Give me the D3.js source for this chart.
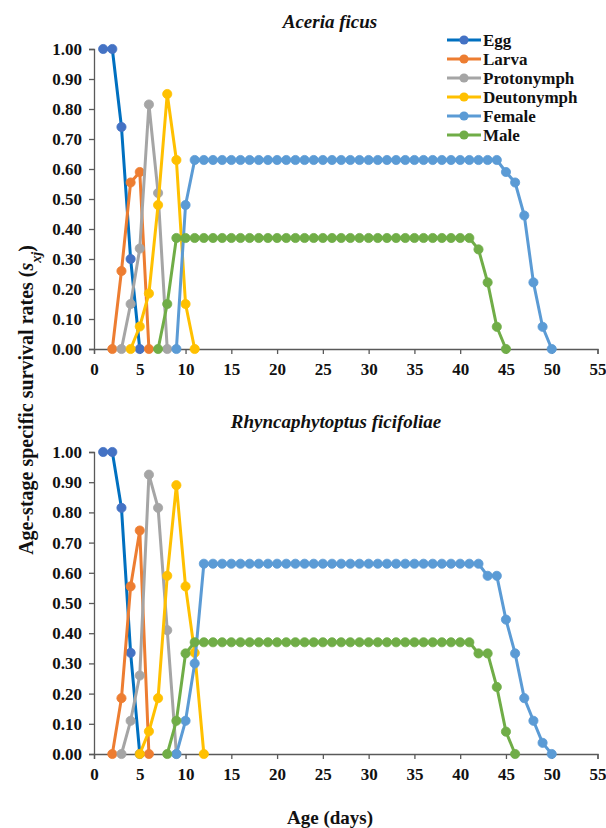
<!DOCTYPE html>
<html><head><meta charset="utf-8">
<script src="https://cdn.jsdelivr.net/npm/d3@7"></script>
<style>body{margin:0;background:#fff}svg{display:block}</style>
</head><body>
<script>
// ---------- DATA ----------
const seriesNames = ["Egg","Larva","Protonymph","Deutonymph","Female","Male"];
const xTicks = [0,5,10,15,20,25,30,35,40,45,50,55];
const yTicks = [0,0.1,0.2,0.3,0.4,0.5,0.6,0.7,0.8,0.9,1.0];

// Aceria ficus
const afEggDays = [1,2,3,4,5];
const afEggVals = [1.00,1.00,0.74,0.30,0.00];
const afLarvaDays = [2,3,4,5,6];
const afLarvaVals = [0.00,0.26,0.555,0.59,0.00];
const afProtoDays = [3,4,5,6,7,8];
const afProtoVals = [0.00,0.15,0.335,0.815,0.52,0.00];
const afDeutoDays = [4,5,6,7,8,9,10,11];
const afDeutoVals = [0.00,0.075,0.185,0.48,0.85,0.63,0.15,0.00];
const afFemaleStart = 9;
const afFemaleVals = [0.00,0.48,
  0.63,0.63,0.63,0.63,0.63,0.63,0.63,0.63,0.63,0.63,
  0.63,0.63,0.63,0.63,0.63,0.63,0.63,0.63,0.63,0.63,
  0.63,0.63,0.63,0.63,0.63,0.63,0.63,0.63,0.63,0.63,
  0.63,0.63,0.63,0.63,
  0.59,0.555,0.445,0.222,0.074,0.00];
const afMaleStart = 7;
const afMaleVals = [0.00,0.15,
  0.37,0.37,0.37,0.37,0.37,0.37,0.37,0.37,0.37,0.37,
  0.37,0.37,0.37,0.37,0.37,0.37,0.37,0.37,0.37,0.37,
  0.37,0.37,0.37,0.37,0.37,0.37,0.37,0.37,0.37,0.37,
  0.37,0.37,0.37,
  0.332,0.222,0.074,0.00];

// Rhyncaphytoptus ficifoliae
const rfEggDays = [1,2,3,4,5];
const rfEggVals = [1.00,1.00,0.815,0.335,0.00];
const rfLarvaDays = [2,3,4,5,6];
const rfLarvaVals = [0.00,0.185,0.555,0.74,0.00];
const rfProtoDays = [3,4,5,6,7,8,9];
const rfProtoVals = [0.00,0.11,0.26,0.925,0.815,0.41,0.00];
const rfDeutoDays = [5,6,7,8,9,10,11,12];
const rfDeutoVals = [0.00,0.075,0.185,0.59,0.89,0.555,0.335,0.00];
const rfFemaleStart = 9;
const rfFemaleVals = [0.00,0.11,0.30,
  0.63,0.63,0.63,0.63,0.63,0.63,0.63,0.63,0.63,0.63,
  0.63,0.63,0.63,0.63,0.63,0.63,0.63,0.63,0.63,0.63,
  0.63,0.63,0.63,0.63,0.63,0.63,0.63,0.63,0.63,0.63,
  0.63,
  0.59,0.59,0.445,0.333,0.185,0.11,0.037,0.00];
const rfMaleStart = 8;
const rfMaleVals = [0.00,0.11,0.333,
  0.37,0.37,0.37,0.37,0.37,0.37,0.37,0.37,0.37,0.37,
  0.37,0.37,0.37,0.37,0.37,0.37,0.37,0.37,0.37,0.37,
  0.37,0.37,0.37,0.37,0.37,0.37,0.37,0.37,0.37,0.37,
  0.37,
  0.333,0.333,0.222,0.074,0.00];

// ---------- STYLE ----------
const lineColors = ["#0070C0","#ED7D31","#A5A5A5","#FFC000","#5B9BD5","#70AD47"];
const markColors = ["#4472C4","#ED7D31","#A5A5A5","#FFC000","#5B9BD5","#70AD47"];
const FONT = "Liberation Serif";

const W = 606, H = 828;
const svg = d3.select("body").append("svg").attr("width",W).attr("height",H)
  .attr("font-family",FONT).attr("font-weight","bold");

function pairs(days, vals){ return days.map((d,i)=>[d, vals[i]]); }
function seq(start, vals){ return vals.map((v,i)=>[start+i, v]); }

const charts = [
  { title:"Aceria ficus", top:49, bottom:349, titleX:330, titleY:28,
    series:[pairs(afEggDays,afEggVals), pairs(afLarvaDays,afLarvaVals), pairs(afProtoDays,afProtoVals),
            pairs(afDeutoDays,afDeutoVals), seq(afFemaleStart,afFemaleVals), seq(afMaleStart,afMaleVals)] },
  { title:"Rhyncaphytoptus ficifoliae", top:452, bottom:754, titleX:336, titleY:428,
    series:[pairs(rfEggDays,rfEggVals), pairs(rfLarvaDays,rfLarvaVals), pairs(rfProtoDays,rfProtoVals),
            pairs(rfDeutoDays,rfDeutoVals), seq(rfFemaleStart,rfFemaleVals), seq(rfMaleStart,rfMaleVals)] }
];

const x = d3.scaleLinear().domain([0,55]).range([94,597.5]);

charts.forEach(ch => {
  const y = d3.scaleLinear().domain([0,1]).range([ch.bottom, ch.top]);
  const g = svg.append("g");

  const yAxis = d3.axisLeft(y).tickValues(yTicks).tickFormat(d3.format(".2f")).tickSize(5).tickPadding(7);
  const gy = g.append("g").attr("transform",`translate(${x(0)},0)`).call(yAxis);
  const xAxis = d3.axisBottom(x).tickValues(xTicks).tickFormat(d3.format("d")).tickSize(5).tickPadding(9);
  const gx = g.append("g").attr("transform",`translate(0,${ch.bottom})`).call(xAxis);
  [gx,gy].forEach(a=>{
    a.attr("font-family",FONT).attr("font-size",17).attr("font-weight","bold");
    a.select(".domain").attr("stroke","#595959").attr("stroke-width",1.3);
    a.selectAll(".tick line").attr("stroke","#595959").attr("stroke-width",1.3);
    a.selectAll(".tick text").attr("fill","#111");
  });

  g.append("text").attr("x",ch.titleX).attr("y",ch.titleY).attr("text-anchor","middle")
    .attr("font-style","italic").attr("font-size",19).attr("fill","#111").text(ch.title);

  const line = d3.line().x(d=>x(d[0])).y(d=>y(d[1]));
  ch.series.forEach((s,i)=>{
    const sg = g.append("g");
    sg.append("path").datum(s).attr("d",line).attr("fill","none")
      .attr("stroke",lineColors[i]).attr("stroke-width",3).attr("stroke-linejoin","round");
    sg.selectAll("circle").data(s).join("circle")
      .attr("cx",d=>x(d[0])).attr("cy",d=>y(d[1])).attr("r",4.6)
      .attr("fill",markColors[i]).attr("stroke",markColors[i]).attr("stroke-width",0.8);
  });
});

// legend
const leg = svg.append("g");
seriesNames.forEach((n,i)=>{
  const yy = 40 + i*19;
  leg.append("line").attr("x1",447).attr("x2",481).attr("y1",yy).attr("y2",yy)
    .attr("stroke",lineColors[i]).attr("stroke-width",3);
  leg.append("circle").attr("cx",464).attr("cy",yy).attr("r",4.6).attr("fill",markColors[i]);
  leg.append("text").attr("x",483).attr("y",yy).attr("dy","0.35em")
    .attr("font-size",17).attr("fill","#111").text(n);
});

// axis titles
const yl = svg.append("text").attr("transform","translate(33,400) rotate(-90)")
  .attr("text-anchor","middle").attr("font-size",20).attr("fill","#111");
yl.append("tspan").text("Age-stage specific survival rates (");
yl.append("tspan").attr("font-style","italic").text("s");
yl.append("tspan").attr("font-style","italic").attr("baseline-shift","sub").attr("font-size",14).text("xj");
yl.append("tspan").text(")");

svg.append("text").attr("x",330).attr("y",824).attr("text-anchor","middle")
  .attr("font-size",19).attr("fill","#111").text("Age (days)");
</script>
</body></html>
